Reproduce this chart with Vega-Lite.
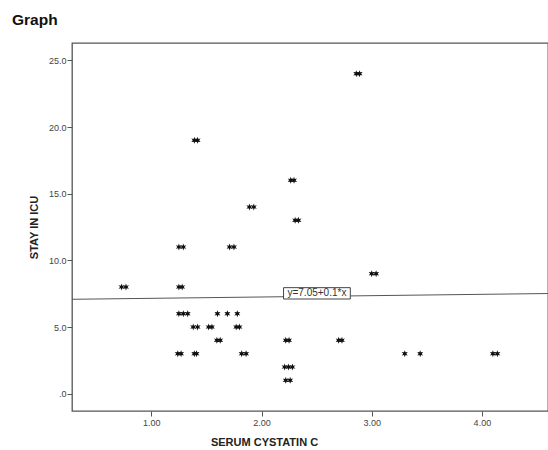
{
  "$schema": "https://vega.github.io/schema/vega-lite/v6.json",
  "autosize": "none",
  "width": 476,
  "height": 368,
  "padding": {"left": 72, "top": 43, "right": 0, "bottom": 39},
  "background": "white",
  "title": {"text": "Graph", "anchor": "start", "frame": "group", "dx": -60, "offset": 15, "fontSize": 15.5, "font": "Liberation Sans", "fontWeight": "bold", "color": "#111"},
  "config": {
    "view": {"stroke": "#555", "strokeWidth": 1.3},
    "axis": {"grid": false, "domain": false, "labelFont": "Liberation Sans", "labelFontSize": 9, "labelColor": "#444", "tickColor": "#555", "tickSize": 5, "titleFont": "Liberation Sans", "titleFontSize": 11, "titleFontWeight": "bold", "titleColor": "#222"}
  },
  "layer": [
    {
      "data": {"values": [{"cystatin": 0.28, "stay": 7.078}, {"cystatin": 4.6, "stay": 7.51}]},
      "mark": {"type": "line", "color": "#555", "strokeWidth": 1},
      "encoding": {
        "x": {"field": "cystatin", "type": "quantitative", "scale": {"domain": [0.28, 4.6], "nice": false, "zero": false}, "axis": {"values": [1, 2, 3, 4], "format": ".2f", "title": "SERUM CYSTATIN C", "labelPadding": 2, "titleX": 192, "titleY": 25, "titleAnchor": "middle"}},
        "y": {"field": "stay", "type": "quantitative", "scale": {"domain": [-1.3, 26.3], "nice": false, "zero": false}, "axis": {"values": [0, 5, 10, 15, 20, 25], "labelExpr": "datum.value == 0 ? '.0' : format(datum.value, '.1f')", "title": "STAY IN ICU", "labelPadding": 1, "titlePadding": 9}}
      }
    },
    {
      "data": {"values": [
        {"cystatin": 0.73, "stay": 8}, {"cystatin": 0.77, "stay": 8},
        {"cystatin": 1.25, "stay": 8}, {"cystatin": 1.28, "stay": 8},
        {"cystatin": 1.25, "stay": 11}, {"cystatin": 1.29, "stay": 11},
        {"cystatin": 1.71, "stay": 11}, {"cystatin": 1.75, "stay": 11},
        {"cystatin": 1.39, "stay": 19}, {"cystatin": 1.42, "stay": 19},
        {"cystatin": 1.89, "stay": 14}, {"cystatin": 1.93, "stay": 14},
        {"cystatin": 2.265, "stay": 16}, {"cystatin": 2.295, "stay": 16},
        {"cystatin": 2.305, "stay": 13}, {"cystatin": 2.335, "stay": 13},
        {"cystatin": 2.86, "stay": 24}, {"cystatin": 2.89, "stay": 24},
        {"cystatin": 3.0, "stay": 9}, {"cystatin": 3.04, "stay": 9},
        {"cystatin": 1.25, "stay": 6}, {"cystatin": 1.29, "stay": 6}, {"cystatin": 1.33, "stay": 6},
        {"cystatin": 1.6, "stay": 6}, {"cystatin": 1.69, "stay": 6}, {"cystatin": 1.78, "stay": 6},
        {"cystatin": 1.38, "stay": 5}, {"cystatin": 1.42, "stay": 5},
        {"cystatin": 1.52, "stay": 5}, {"cystatin": 1.55, "stay": 5},
        {"cystatin": 1.77, "stay": 5}, {"cystatin": 1.8, "stay": 5},
        {"cystatin": 1.595, "stay": 4}, {"cystatin": 1.625, "stay": 4},
        {"cystatin": 1.24, "stay": 3}, {"cystatin": 1.27, "stay": 3},
        {"cystatin": 1.39, "stay": 3}, {"cystatin": 1.41, "stay": 3},
        {"cystatin": 1.82, "stay": 3}, {"cystatin": 1.86, "stay": 3},
        {"cystatin": 2.22, "stay": 4}, {"cystatin": 2.25, "stay": 4},
        {"cystatin": 2.7, "stay": 4}, {"cystatin": 2.73, "stay": 4},
        {"cystatin": 2.21, "stay": 2}, {"cystatin": 2.245, "stay": 2}, {"cystatin": 2.28, "stay": 2},
        {"cystatin": 2.22, "stay": 1}, {"cystatin": 2.26, "stay": 1},
        {"cystatin": 3.3, "stay": 3}, {"cystatin": 3.44, "stay": 3},
        {"cystatin": 4.1, "stay": 3}, {"cystatin": 4.14, "stay": 3}
      ]},
      "mark": {"type": "point", "shape": "M0,-1L0.225,-0.39L0.866,-0.5L0.45,0L0.866,0.5L0.225,0.39L0,1L-0.225,0.39L-0.866,0.5L-0.45,0L-0.866,-0.5L-0.225,-0.39Z", "filled": true, "color": "#111", "size": 48, "opacity": 1},
      "encoding": {
        "x": {"field": "cystatin", "type": "quantitative"},
        "y": {"field": "stay", "type": "quantitative"}
      }
    },
    {
      "data": {"values": [{"x1": 2.2, "x2": 2.806, "y1": 7.1, "y2": 7.95}]},
      "mark": {"type": "rect", "fill": "white", "stroke": "#444", "strokeWidth": 1},
      "encoding": {
        "x": {"field": "x1", "type": "quantitative"},
        "x2": {"field": "x2"},
        "y": {"field": "y1", "type": "quantitative"},
        "y2": {"field": "y2"}
      }
    },
    {
      "data": {"values": [{"xc": 2.503, "yc": 7.52, "label": "y=7.05+0.1*x"}]},
      "mark": {"type": "text", "font": "Liberation Sans", "fontSize": 10, "color": "#333", "align": "center", "baseline": "middle"},
      "encoding": {
        "x": {"field": "xc", "type": "quantitative"},
        "y": {"field": "yc", "type": "quantitative"},
        "text": {"field": "label", "type": "nominal"}
      }
    }
  ]
}
